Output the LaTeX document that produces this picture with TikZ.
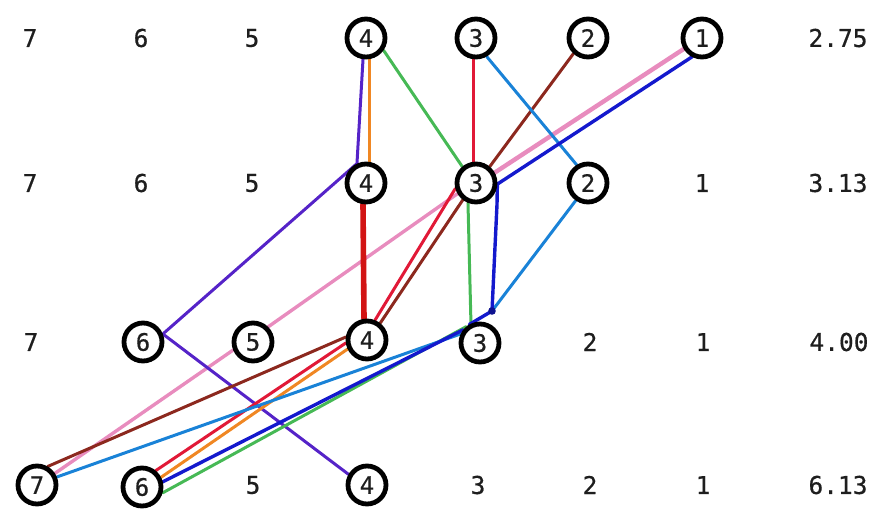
\documentclass[tikz,border=0pt]{standalone}
\usepackage{fontspec}
\setmainfont{DejaVu Sans Mono}
\newfontfamily\numfont{DejaVu Sans Mono}[FakeBold=0.6]
\usetikzlibrary{backgrounds}
\definecolor{cpink}{RGB}{232,140,190}
\definecolor{cblue}{RGB}{20,25,205}
\definecolor{cviolet}{RGB}{85,35,200}
\definecolor{cbrown}{RGB}{140,40,30}
\definecolor{clblue}{RGB}{25,130,215}
\definecolor{cred}{RGB}{225,25,55}
\definecolor{cdred}{RGB}{210,20,20}
\definecolor{cgreen}{RGB}{70,185,85}
\definecolor{corange}{RGB}{240,135,35}
\definecolor{ink}{RGB}{30,30,30}
\begin{document}
\begin{tikzpicture}[x=1pt,y=-1pt,
  numtxt/.style={inner sep=0pt, text=ink, font=\numfont\fontsize{24.5}{24.5}\selectfont},
  circ/.style={circle, draw=black, fill=white, line width=4.8pt, minimum size=38pt, inner sep=0pt, text=ink, font=\numfont\fontsize{24}{24}\selectfont},
  lk/.style={line width=3pt, line cap=round, line join=round}]
\useasboundingbox (0,0) rectangle (883,517);
% row 1
\node[numtxt] (r1c7) at (30,38) {7};
\node[numtxt] (r1c6) at (141,38) {6};
\node[numtxt] (r1c5) at (252,38) {5};
\node[circ]   (r1c4) at (366,38) {4};
\node[circ]   (r1c3) at (476,38) {3};
\node[circ]   (r1c2) at (588,38) {2};
\node[circ]   (r1c1) at (702,38) {1};
\node[numtxt] (v1)   at (838,38) {2.75};
% row 2
\node[numtxt] (r2c7) at (30,183) {7};
\node[numtxt] (r2c6) at (141,183) {6};
\node[numtxt] (r2c5) at (252,183) {5};
\node[circ]   (r2c4) at (366,183) {4};
\node[circ]   (r2c3) at (476,183) {3};
\node[circ]   (r2c2) at (588,183) {2};
\node[numtxt] (r2c1) at (702,183) {1};
\node[numtxt] (v2)   at (838,183) {3.13};
% row 3
\node[numtxt] (r3c7) at (31,342) {7};
\node[circ]   (r3c6) at (143,342) {6};
\node[circ]   (r3c5) at (253,342) {5};
\node[circ]   (r3c4) at (367,340) {4};
\node[circ]   (r3c3) at (480,343) {3};
\node[numtxt] (r3c2) at (590,342) {2};
\node[numtxt] (r3c1) at (703,342) {1};
\node[numtxt] (v3)   at (839,342) {4.00};
% row 4
\node[circ]   (r4c7) at (37,485) {7};
\node[circ]   (r4c6) at (142,487) {6};
\node[numtxt] (r4c5) at (253,485) {5};
\node[circ]   (r4c4) at (367,485) {4};
\node[numtxt] (r4c3) at (478,485) {3};
\node[numtxt] (r4c2) at (590,485) {2};
\node[numtxt] (r4c1) at (703,485) {1};
\node[numtxt] (v4)   at (838,485) {6.13};
\coordinate (j) at (492,311);
\begin{pgfonlayer}{background}
% pink path 1-3-5-7
\draw[lk, cpink, line width=4.4pt] (r1c1.211) -- (r2c3.29);
\draw[lk, cpink, line width=3.4pt] (r2c3.210) -- (r3c5.45);
\draw[lk, cpink, line width=3.4pt] (r3c5.202) -- (r4c7.33);
% violet path 4-4-6-4
\draw[lk, cviolet] ([xshift=-3pt]r1c4.south) -- (r2c4.115) -- (r3c6.22) -- (r4c4.150);
% orange path 4-4-4-6
\draw[lk, corange] ([xshift=3pt]r1c4.south) -- ([xshift=3pt]r2c4.north);
\draw[lk, cdred, line width=5.6pt] ([xshift=-3pt]r2c4.south) -- ([xshift=-3pt]r3c4.north);
\draw[lk, corange] (r3c4.205) -- (r4c6.27);
% green path 4-3-3-6
\draw[lk, cgreen] (r1c4.-35) -- (r2c3.130);
\draw[lk, cgreen] (r2c3.248) -- (r3c3.115);
\draw[lk, cgreen] (r3c3.130) -- (r4c6.-16);
% red path 3-3-4-6
\draw[lk, cred] ([xshift=-3pt]r1c3.south) -- ([xshift=-3pt]r2c3.north);
\draw[lk, cred] (r2c3.195) -- (r3c4.68);
\draw[lk, cred] (r3c4.188) -- (r4c6.50);
% brown path 2-3-4-7
\draw[lk, cbrown] (r1c2.227) -- (r2c3.50);
\draw[lk, cbrown] (r2c3.232) -- (r3c4.52);
\draw[lk, cbrown] (r3c4.172) -- (r4c7.60);
% light blue path 3-2-3-7
\draw[lk, clblue] (r1c3.-60) -- (r2c2.122);
\draw[lk, clblue] (r2c2.235) -- (j);
\draw[lk, clblue] (r3c3.155) -- (r4c7.22);
% blue path 1-3-3-6
\draw[lk, cblue, line width=3.4pt] (r1c1.242) -- (r2c3.-3) -- ([xshift=21pt]r2c3.south) -- (j) -- (r3c3.120);
\draw[lk, cblue, line width=3.4pt] (r3c3.142) -- (r4c6.14);
\fill[cblue!70!black] (j) circle (3.8pt);
\end{pgfonlayer}
\end{tikzpicture}
\end{document}
